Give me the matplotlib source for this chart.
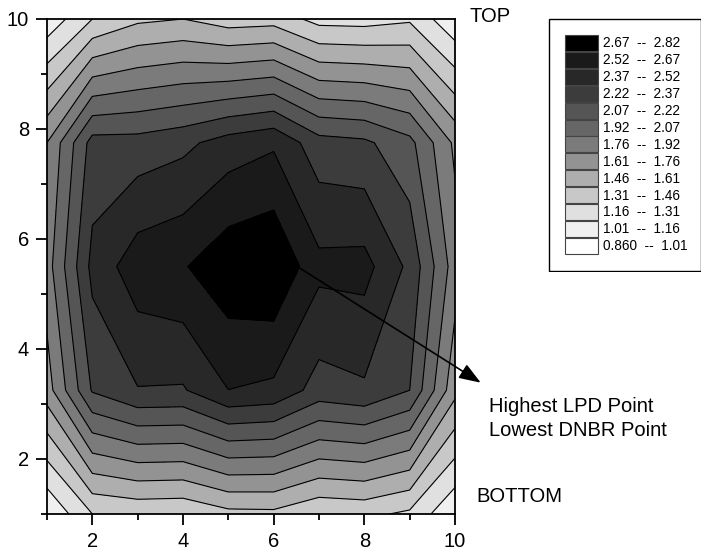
import numpy as np
import matplotlib.pyplot as plt
from matplotlib.patches import Rectangle

plt.rcParams['font.family'] = ['Liberation Sans', 'DejaVu Sans']

# grid nodes (x = columns, y = axial rows)
x_nodes = [1, 2, 3, 4, 5, 6, 7, 8, 9, 10]
y_nodes = [1.0, 3.25, 5.5, 7.75, 10.0]

# values, one list per row (bottom to top)
row_y1 = [1.021, 1.312, 1.342, 1.333, 1.418, 1.425, 1.332, 1.350, 1.282, 1.026]
row_y2 = [1.695, 2.232, 2.360, 2.353, 2.517, 2.485, 2.304, 2.345, 2.217, 1.659]
row_y3 = [1.848, 2.413, 2.609, 2.656, 2.779, 2.815, 2.561, 2.571, 2.332, 1.840]
row_y4 = [1.765, 2.277, 2.277, 2.328, 2.436, 2.496, 2.277, 2.247, 2.111, 1.734]
row_y5 = [1.056, 1.312, 1.433, 1.463, 1.388, 1.403, 1.260, 1.252, 1.290, 1.040]

z_min, z_max, n_bands = 0.860, 2.82, 13
band_colors = ['#ffffff', '#f0f0f0', '#e0e0e0', '#c8c8c8', '#aeaeae', '#939393',
               '#7b7b7b', '#666666', '#555555', '#3c3c3c', '#282828', '#1a1a1a', '#000000']
legend_labels = ['0.860  --  1.01', '1.01  --  1.16', '1.16  --  1.31', '1.31  --  1.46',
                 '1.46  --  1.61', '1.61  --  1.76', '1.76  --  1.92', '1.92  --  2.07',
                 '2.07  --  2.22', '2.22  --  2.37', '2.37  --  2.52', '2.52  --  2.67',
                 '2.67  --  2.82']

Z = np.array([row_y1, row_y2, row_y3, row_y4, row_y5])
levels = np.linspace(z_min, z_max, n_bands + 1)

W, H = 713, 558
fig = plt.figure(figsize=(W / 100, H / 100), dpi=100)
ax = fig.add_axes([47 / W, 44 / H, 408 / W, 495 / H])

ax.contourf(x_nodes, y_nodes, Z, levels=levels, colors=band_colors)
ax.contour(x_nodes, y_nodes, Z, levels=levels[1:-1], colors='black', linewidths=0.8)

ax.set_xlim(1, 10)
ax.set_ylim(1, 10)
ax.set_xticks([2, 4, 6, 8, 10])
ax.set_yticks([2, 4, 6, 8, 10])
ax.set_xticks([1, 3, 5, 7, 9], minor=True)
ax.set_yticks([1, 3, 5, 7, 9], minor=True)
ax.tick_params(which='major', direction='out', length=8, width=1.3, labelsize=14.5, pad=5)
ax.tick_params(which='minor', direction='out', length=4.3, width=1.3)
for s in ax.spines.values():
    s.set_linewidth(1.3)

# annotation arrow from the peak towards the label
ax.annotate('', xy=(10.62, 3.36), xytext=(6.54, 5.49), annotation_clip=False,
            arrowprops=dict(arrowstyle='-|>,head_length=0.6,head_width=0.22',
                            color='black', lw=1.2, mutation_scale=22))

fig.text(470 / W, 1 - 17 / H, 'TOP', fontsize=14.5, va='center', ha='left')
fig.text(476 / W, 1 - 497 / H, 'BOTTOM', fontsize=14.5, va='center', ha='left')
fig.text(489 / W, 1 - 407 / H, 'Highest LPD Point', fontsize=14.5, va='center', ha='left')
fig.text(489 / W, 1 - 430 / H, 'Lowest DNBR Point', fontsize=14.5, va='center', ha='left')

# legend box
lax = fig.add_axes([548 / W, 1 - 272 / H, 153 / W, 254 / H])
lax.set_xlim(0, 153)
lax.set_ylim(254, 0)
lax.axis('off')
lax.add_patch(Rectangle((0.5, 0.5), 152, 253, fill=False, edgecolor='black', lw=1.0))
row_h = 16.9
for i, (col, lab) in enumerate(zip(band_colors[::-1], legend_labels[::-1])):
    top = 17 + i * row_h
    lax.add_patch(Rectangle((17, top), 33, row_h - 0.8, facecolor=col,
                            edgecolor='#444444', lw=0.8))
    lax.text(55, top + row_h / 2, lab, fontsize=9.8, va='center', ha='left')

fig.savefig('out.png', dpi=100)
